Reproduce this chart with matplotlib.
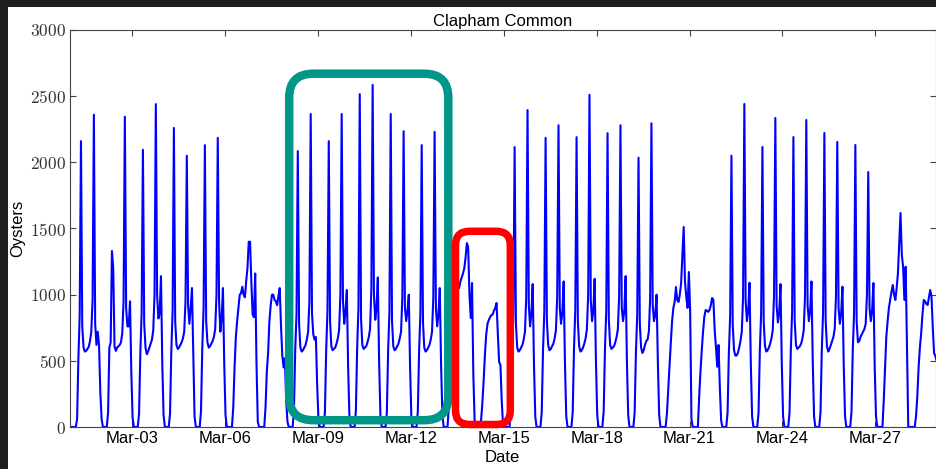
import numpy as np
import pandas as pd
import matplotlib
matplotlib.use("Agg")
import matplotlib.pyplot as plt
import matplotlib.dates as mdates
from matplotlib.patches import FancyBboxPatch, Rectangle
from matplotlib.ticker import FuncFormatter

# hourly oyster taps, one list per day (values for 00:30, 01:30, ... 23:30)
mar01 = [0, 0, 0, 0, 0, 60, 520, 840, 2160, 760, 600, 570, 575, 590, 605, 650, 720, 960, 2360, 780, 620, 720, 620, 260]
mar02 = [60, 0, 0, 0, 0, 110, 600, 640, 1330, 1200, 610, 575, 600, 610, 620, 640, 710, 950, 2345, 900, 760, 760, 950, 420]
mar03 = [70, 0, 0, 0, 0, 100, 560, 860, 2095, 780, 600, 550, 570, 600, 630, 660, 730, 1000, 2440, 1000, 820, 860, 1140, 480]
mar04 = [90, 0, 0, 0, 0, 100, 570, 880, 2260, 800, 620, 590, 600, 620, 640, 670, 720, 950, 2050, 920, 780, 900, 1050, 560]
mar05 = [80, 0, 0, 0, 0, 120, 600, 900, 2130, 800, 640, 600, 610, 630, 650, 680, 740, 1000, 2185, 950, 720, 820, 1050, 480]
mar06 = [90, 0, 0, 0, 0, 0, 150, 450, 680, 800, 900, 1000, 1010, 1060, 1000, 980, 1100, 1200, 1400, 1400, 1100, 850, 830, 1160]
mar07 = [480, 40, 0, 0, 0, 0, 0, 150, 420, 560, 800, 920, 1000, 1000, 960, 950, 920, 990, 1050, 760, 540, 450, 520, 200]
mar08 = [40, 0, 0, 0, 0, 120, 580, 850, 2085, 780, 600, 570, 580, 600, 620, 660, 720, 950, 2365, 860, 700, 660, 680, 320]
mar09 = [60, 0, 0, 0, 0, 110, 580, 880, 2160, 800, 610, 580, 590, 600, 630, 670, 730, 1000, 2365, 950, 780, 880, 1035, 450]
mar10 = [80, 0, 0, 0, 0, 120, 600, 900, 2515, 820, 620, 590, 600, 610, 640, 680, 740, 1050, 2585, 1000, 810, 900, 1130, 500]
mar11 = [90, 0, 0, 0, 0, 110, 580, 870, 2365, 800, 610, 580, 590, 610, 630, 670, 720, 980, 2235, 900, 800, 880, 1000, 450]
mar12 = [70, 0, 0, 0, 0, 120, 580, 860, 2130, 790, 600, 570, 580, 600, 620, 660, 720, 980, 2230, 900, 760, 850, 1050, 480]
mar13 = [100, 0, 0, 0, 0, 150, 450, 700, 900, 1000, 1050, 1080, 1050, 1050, 1100, 1130, 1160, 1200, 1280, 1390, 1360, 1000, 824, 1088]
mar14 = [400, 50, 0, 0, 0, 0, 50, 180, 350, 550, 700, 780, 808, 830, 846, 850, 880, 900, 937, 700, 490, 470, 200, 20]
mar15 = [0, 0, 0, 0, 0, 100, 560, 850, 2115, 780, 600, 570, 580, 600, 620, 660, 720, 980, 2395, 920, 760, 860, 1080, 470]
mar16 = [80, 0, 0, 0, 0, 110, 580, 870, 2185, 800, 620, 580, 590, 610, 630, 670, 730, 990, 2280, 900, 780, 870, 1100, 480]
mar17 = [80, 0, 0, 0, 0, 110, 590, 880, 2190, 800, 610, 570, 580, 600, 630, 670, 740, 1000, 2510, 960, 800, 880, 1120, 500]
mar18 = [90, 0, 0, 0, 0, 120, 590, 880, 2220, 810, 620, 590, 600, 610, 640, 680, 740, 1000, 2280, 900, 800, 880, 1140, 500]
mar19 = [90, 0, 0, 0, 0, 110, 570, 850, 2035, 780, 600, 560, 580, 620, 650, 660, 720, 970, 2295, 920, 800, 850, 1000, 480]
mar20 = [90, 0, 0, 0, 0, 0, 100, 280, 450, 635, 800, 900, 945, 1058, 960, 945, 1000, 1088, 1300, 1511, 1100, 982, 900, 1171]
mar21 = [880, 60, 0, 0, 0, 0, 0, 230, 420, 580, 720, 834, 884, 880, 870, 884, 920, 975, 960, 733, 600, 455, 620, 300]
mar22 = [50, 0, 0, 0, 0, 110, 560, 840, 2050, 770, 580, 540, 540, 560, 600, 650, 720, 980, 2441, 950, 800, 880, 1090, 480]
mar23 = [80, 0, 0, 0, 0, 110, 580, 860, 2116, 790, 610, 570, 580, 600, 630, 670, 730, 990, 2335, 920, 790, 860, 1080, 480]
mar24 = [80, 0, 0, 0, 0, 110, 580, 870, 2191, 800, 620, 590, 600, 610, 630, 670, 730, 990, 2320, 920, 800, 880, 1100, 490]
mar25 = [80, 0, 0, 0, 0, 110, 580, 870, 2222, 800, 610, 570, 590, 620, 650, 680, 740, 990, 2154, 900, 780, 860, 1060, 470]
mar26 = [80, 0, 0, 0, 0, 110, 580, 860, 2131, 800, 640, 650, 680, 700, 720, 740, 780, 1000, 1927, 900, 800, 884, 1088, 450]
mar27 = [80, 0, 0, 0, 0, 0, 200, 450, 682, 800, 900, 960, 1022, 1073, 1000, 960, 1050, 1163, 1400, 1617, 1300, 1211, 960, 1211]
mar28 = [600, 0, 0, 0, 0, 0, 0, 80, 229, 450, 600, 710, 850, 960, 950, 930, 922, 980, 1035, 985, 750, 557, 537, 500]

days = [mar01, mar02, mar03, mar04, mar05, mar06, mar07, mar08, mar09, mar10,
        mar11, mar12, mar13, mar14, mar15, mar16, mar17, mar18, mar19, mar20,
        mar21, mar22, mar23, mar24, mar25, mar26, mar27, mar28]
oysters = np.concatenate(days)
times = pd.date_range("2015-03-01 00:30", periods=len(oysters), freq="h")

plt.rcParams["mathtext.fontset"] = "cm"
plt.rcParams["font.family"] = ["Liberation Sans", "DejaVu Sans"]

fig = plt.figure(figsize=(9.36, 4.69), dpi=100)
fig.patch.set_facecolor("#1f1f1f")
# white page inside the dark screenshot frame
fig.add_artist(Rectangle((8.3 / 936, 0), 1, (469 - 6.7) / 469, transform=fig.transFigure,
                         facecolor="white", edgecolor="none", zorder=-1))

ax = fig.add_axes([70 / 936, 42 / 469, 865.5 / 936, 397 / 469])
ax.plot(times, oysters, color="#0000ff", lw=1.5)
ax.set_xlim(pd.Timestamp("2015-03-01 00:00"), pd.Timestamp("2015-03-28 22:36"))
ax.set_ylim(0, 3000)

ax.xaxis.set_major_locator(mdates.DayLocator(bymonthday=range(3, 29, 3)))
ax.xaxis.set_major_formatter(mdates.DateFormatter("%b-%d"))
ax.set_yticks(range(0, 3001, 500))
ax.yaxis.set_major_formatter(FuncFormatter(lambda v, p: r"$%d$" % v))

for s in ax.spines.values():
    s.set_color("#444444")
    s.set_linewidth(0.8)
ax.tick_params(direction="in", top=True, right=True, length=4, width=0.8, color="#444444")
ax.tick_params(axis="x", labelsize=12, pad=3)
ax.tick_params(axis="y", labelsize=12.5, pad=3, labelcolor="#333333")

ax.set_title("Clapham Common", fontsize=12, pad=3)
ax.set_xlabel("Date", fontsize=12, labelpad=3)
ax.set_ylabel("Oysters", fontsize=12, labelpad=3)

# highlight boxes drawn over the chart (inches from bottom-left)
teal = FancyBboxPatch((2.892, 0.488), 1.591, 3.465, boxstyle="round,pad=0,rounding_size=0.24",
                      transform=fig.dpi_scale_trans, facecolor="none", edgecolor="#009688",
                      lw=6.1, zorder=5)
red = FancyBboxPatch((4.555, 0.445), 0.548, 1.932, boxstyle="round,pad=0,rounding_size=0.14",
                     transform=fig.dpi_scale_trans, facecolor="none", edgecolor="#ff0000",
                     lw=5.4, zorder=5)
fig.add_artist(teal)
fig.add_artist(red)

fig.savefig("out.png", dpi=100, facecolor=fig.get_facecolor())
